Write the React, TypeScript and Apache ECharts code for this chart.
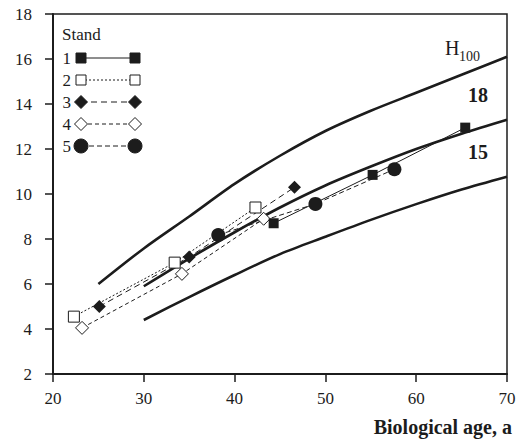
import React, { useEffect, useRef } from "react";
import * as echarts from "echarts";

// Site index curves (H100)
const curveTopAges = [25, 30, 35, 40, 45, 50, 55, 60, 65, 70];
const curveTop = [6.0, 7.58, 9.0, 10.45, 11.7, 12.8, 13.7, 14.5, 15.3, 16.1];
const curveMidAges = [30, 35, 40, 45, 50, 55, 60, 65, 70];
const curveMid = [5.9, 7.13, 8.3, 9.4, 10.38, 11.22, 12.0, 12.68, 13.3];
const curveLowAges = [30, 35, 40, 45, 50, 55, 60, 65, 70];
const curveLow = [4.4, 5.42, 6.4, 7.33, 8.1, 8.85, 9.55, 10.2, 10.77];

// Stands
const stand1Ages = [44.3, 55.2, 65.4];
const stand1H = [8.7, 10.85, 12.95];
const stand2Ages = [22.3, 33.4, 42.3];
const stand2H = [4.55, 6.95, 9.4];
const stand3Ages = [25.1, 35.0, 46.6];
const stand3H = [5.0, 7.2, 10.3];
const stand4Ages = [23.2, 34.2, 43.2];
const stand4H = [4.05, 6.45, 8.9];
const stand5Ages = [38.2, 48.9, 57.6];
const stand5H = [8.18, 9.56, 11.1];

const legendLabels = ["1", "2", "3", "4", "5"];
const curveLabels = ["18", "15"];

const FONT = "Liberation Serif";
const INK = "#1c1c1c";

const zip = (a: number[], b: number[]) => a.map((v, i) => [v, b[i]]);

const txt = (
  text: string,
  x: number,
  y: number,
  size: number,
  opts: { bold?: boolean; align?: string } = {}
) => ({
  type: "text",
  x,
  y,
  style: {
    text,
    fontFamily: FONT,
    fontSize: size,
    fontWeight: opts.bold ? "bold" : "normal",
    fill: INK,
    textAlign: opts.align || "left",
    textVerticalAlign: "middle",
  },
});

export default function App() {
  const ref = useRef<HTMLDivElement>(null);
  useEffect(() => {
    if (!ref.current) return;
    const chart = echarts.init(ref.current, null, { renderer: "svg" });

    const curve = (ages: number[], vals: number[]) => ({
      type: "line",
      data: zip(ages, vals),
      smooth: 0.3,
      showSymbol: false,
      symbol: "none",
      lineStyle: { color: INK, width: 2.6 },
      z: 2,
      silent: true,
    });

    const stand = (
      ages: number[],
      vals: number[],
      symbol: string,
      size: number,
      filled: boolean,
      dash: any
    ) => ({
      type: "line",
      data: zip(ages, vals),
      symbol,
      symbolSize: size,
      showSymbol: true,
      lineStyle: { color: INK, width: 1, type: dash },
      itemStyle: {
        color: filled ? INK : "#ffffff",
        borderColor: INK,
        borderWidth: filled ? 0 : 1,
      },
      z: 3,
    });

    // Legend drawn as graphics
    const rowsY = [58, 80, 102, 124, 146];
    const markerSpecs = [
      { kind: "rect", filled: true, dash: null },
      { kind: "rect", filled: false, dash: [2, 2] },
      { kind: "diamond", filled: true, dash: [6, 4] },
      { kind: "diamond", filled: false, dash: [4, 3] },
      { kind: "circle", filled: true, dash: [5, 3] },
    ];
    const mk = (kind: string, filled: boolean, cx: number, cy: number) => {
      const style = {
        fill: filled ? INK : "#ffffff",
        stroke: INK,
        lineWidth: 1,
      };
      if (kind === "rect")
        return { type: "rect", shape: { x: cx - 5, y: cy - 5, width: 10, height: 10 }, style };
      if (kind === "diamond")
        return {
          type: "polygon",
          shape: { points: [[cx, cy - 6.5], [cx + 6.5, cy], [cx, cy + 6.5], [cx - 6.5, cy]] },
          style,
        };
      return { type: "circle", shape: { cx, cy, r: 7 }, style };
    };
    const legendEls: any[] = [txt("Stand", 62, 34, 17)];
    rowsY.forEach((y, i) => {
      const s = markerSpecs[i];
      legendEls.push(txt(legendLabels[i], 71, y, 17, { align: "right" }));
      legendEls.push({
        type: "line",
        shape: { x1: 81, y1: y, x2: 135, y2: y },
        style: { stroke: INK, lineWidth: 1, lineDash: s.dash || undefined },
      });
      legendEls.push(mk(s.kind, s.filled, 81, y));
      legendEls.push(mk(s.kind, s.filled, 135, y));
    });

    const option: any = {
      animation: false,
      backgroundColor: "#ffffff",
      textStyle: { fontFamily: FONT },
      grid: {
        left: 53,
        right: 24,
        top: 14,
        bottom: 68,
        show: true,
        borderColor: INK,
        borderWidth: 1.5,
        backgroundColor: "transparent",
      },
      xAxis: {
        type: "value",
        min: 20,
        max: 70,
        interval: 10,
        axisLine: { show: true, lineStyle: { color: INK, width: 2 } },
        axisTick: { show: true, inside: false, length: 8, lineStyle: { color: INK, width: 1.5 } },
        splitLine: { show: false },
        axisLabel: { color: INK, fontFamily: FONT, fontSize: 17, margin: 16 },
      },
      yAxis: {
        type: "value",
        min: 2,
        max: 18,
        interval: 2,
        axisLine: { show: true, lineStyle: { color: INK, width: 2 } },
        axisTick: { show: true, inside: false, length: 8, lineStyle: { color: INK, width: 1.5 } },
        splitLine: { show: false },
        axisLabel: { color: INK, fontFamily: FONT, fontSize: 17, margin: 21 },
      },
      series: [
        curve(curveTopAges, curveTop),
        curve(curveMidAges, curveMid),
        curve(curveLowAges, curveLow),
        stand(stand2Ages, stand2H, "rect", 11, false, [2, 2]),
        stand(stand4Ages, stand4H, "diamond", 13, false, [4, 3]),
        stand(stand3Ages, stand3H, "diamond", 13, true, [6, 4]),
        stand(stand5Ages, stand5H, "circle", 14, true, [5, 3]),
        stand(stand1Ages, stand1H, "rect", 10, true, "solid"),
      ],
      graphic: [
        ...legendEls,
        txt("H", 445, 48, 20),
        txt("100", 459, 56, 14),
        txt(curveLabels[0], 468, 95, 20, { bold: true }),
        txt(curveLabels[1], 468, 152, 20, { bold: true }),
        txt("Biological age, a", 512, 427, 20, { bold: true, align: "right" }),
      ],
    };
    chart.setOption(option);
    return () => chart.dispose();
  }, []);
  return <div ref={ref} style={{ width: 531, height: 442, position: "absolute", left: 0, top: 0 }} />;
}
